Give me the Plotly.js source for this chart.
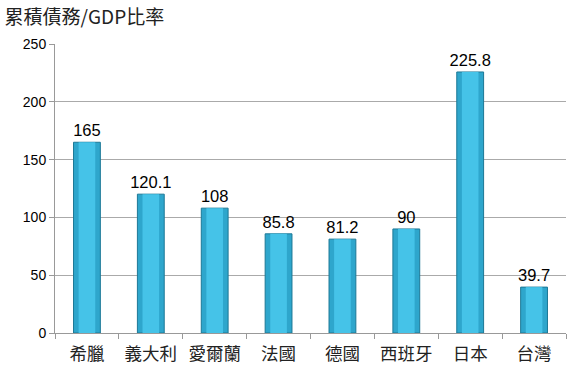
<!DOCTYPE html>
<html><head><meta charset="utf-8">
<script src="https://cdn.plot.ly/plotly-3.0.1.min.js"></script>
<style>html,body{margin:0;padding:0;background:#fff;}</style>
</head><body><div id="chart" style="width:573px;height:375px;"></div>
<script>
const categories = ['希臘','義大利','愛爾蘭','法國','德國','西班牙','日本','台灣'];
const values = [165, 120.1, 108, 85.8, 81.2, 90, 225.8, 39.7];
const labels = ['165','120.1','108','85.8','81.2','90','225.8','39.7'];

const outer = {
  type:'bar', x:categories, y:values, width:0.42,
  marker:{color:'#2ea6cc', line:{color:'#1c7896', width:1}},
  text:labels, textposition:'outside', cliponaxis:false, constraintext:'none',
  textfont:{family:'Liberation Sans, Arial, sans-serif', size:16.5, color:'#000'},
  hoverinfo:'x+y'
};
const inner = {
  type:'bar', x:categories, y:values, width:0.26,
  marker:{color:'#45c3e8', line:{width:0}},
  hoverinfo:'skip', textposition:'none'
};
const layout = {
  width:573, height:375,
  margin:{l:55, r:7, t:44, b:42},
  paper_bgcolor:'#fff', plot_bgcolor:'#fff',
  showlegend:false, barmode:'overlay',
  title:{text:'累積債務/GDP比率', x:0.008, xanchor:'left', xref:'container', y:0.953, yref:'container', yanchor:'middle',
         font:{family:'Noto Sans CJK TC, sans-serif', size:19, color:'#222'}},
  xaxis:{type:'category', showgrid:false, showline:true, linecolor:'#999', linewidth:1,
         ticks:'outside', tickson:'boundaries', ticklen:5, tickcolor:'#999',
         tickfont:{family:'Noto Sans CJK TC, sans-serif', size:17.5, color:'#222'}, ticklabelstandoff:5},
  yaxis:{range:[0,250], dtick:50, showgrid:true, gridcolor:'#aaa', gridwidth:1,
         showline:true, linecolor:'#999', ticks:'outside', ticklen:5, tickcolor:'#999',
         zeroline:false,
         tickfont:{family:'Liberation Sans, Arial, sans-serif', size:14, color:'#000'}}
};
Plotly.newPlot('chart', [outer, inner], layout, {displayModeBar:false, staticPlot:true});
</script></body></html>
